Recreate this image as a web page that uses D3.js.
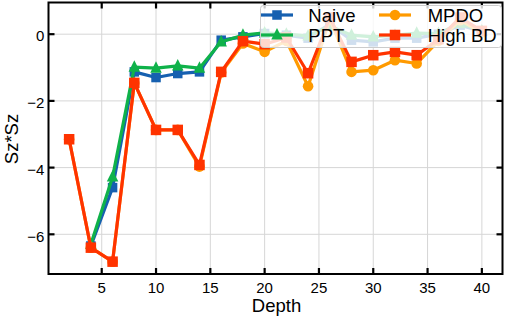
<!DOCTYPE html>
<html><head><meta charset="utf-8">
<script src="https://cdn.jsdelivr.net/npm/d3@7"></script>
<style>body{margin:0;background:#fff}svg{display:block;font-family:"Liberation Sans",Arial,sans-serif}</style>
</head><body><svg id="c" width="507" height="320"></svg>
<script>
const depth = [2,4,6,8,10,12,14,16,18,20,22,24,26,28,30,32,34,36,38,40];
const naive = [null,-6.35,-4.60,-1.13,-1.30,-1.18,-1.13,-0.18,-0.08,0.02,-0.03,-0.12,0.30,-0.18,-0.23,-0.12,-0.12,0.0,0.27,0.08];
const ppt   = [null,-6.30,-4.28,-0.99,-1.02,-0.95,-1.02,-0.23,-0.03,0.04,0.0,-0.05,0.25,-0.03,-0.08,-0.03,0.03,0.02,0.32,0.1];
const mpdo  = [-3.15,-6.40,-6.82,-1.46,-2.87,-2.87,-3.97,-1.15,-0.28,-0.53,-0.2,-1.56,0.45,-1.13,-1.08,-0.78,-0.88,-0.2,0.42,0.05];
const highBD= [-3.15,-6.40,-6.82,-1.46,-2.87,-2.87,-3.92,-1.13,-0.21,-0.3,-0.1,-1.17,0.5,-0.83,-0.63,-0.53,-0.63,-0.15,0.5,0.1];
const xTicks = [5,10,15,20,25,30,35,40];
const yTicks = [0,-2,-4,-6];
const seriesNames = ["Naive","PPT","MPDO","High BD"];
const colors = ["#1660b0","#0fb24a","#ff9a00","#ff3300"];
const markers = ["square","triangle","circle","square"];

const svg = d3.select("#c");
const L=48.5,R=502.5,T=2.5,B=274;
const x = d3.scaleLinear().domain([0.1,41.9]).range([L,R]);
const y = d3.scaleLinear().domain([-7.19,0.95]).range([B,T]);

// grid
svg.append("g").selectAll("line").data(xTicks).join("line")
  .attr("x1",d=>x(d)).attr("x2",d=>x(d)).attr("y1",T).attr("y2",B)
  .attr("stroke","#d6d6d6").attr("stroke-width",1);
svg.append("g").selectAll("line").data(yTicks).join("line")
  .attr("y1",d=>y(d)).attr("y2",d=>y(d)).attr("x1",L).attr("x2",R)
  .attr("stroke","#d6d6d6").attr("stroke-width",1);

function drawMarkers(g, pts, type, col, s){
  if(type==="square"){
    g.selectAll("rect.m").data(pts).join("rect").attr("class","m")
      .attr("x",p=>p[0]-s/2).attr("y",p=>p[1]-s/2).attr("width",s).attr("height",s).attr("fill",col);
  } else if(type==="circle"){
    g.selectAll("circle").data(pts).join("circle")
      .attr("cx",p=>p[0]).attr("cy",p=>p[1]).attr("r",5.3).attr("fill",col);
  } else {
    const h=11.5;
    g.selectAll("path.m").data(pts).join("path").attr("class","m")
      .attr("d",p=>`M${p[0]},${p[1]-h*0.6}L${p[0]+h/2},${p[1]+h*0.4}L${p[0]-h/2},${p[1]+h*0.4}Z`).attr("fill",col);
  }
}

// series
const all = [naive,ppt,mpdo,highBD];
all.forEach((vals,i)=>{
  const pts = depth.map((d,j)=>({d,v:vals[j]})).filter(p=>p.v!==null);
  const g = svg.append("g");
  g.append("path").datum(pts)
    .attr("d",d3.line().x(p=>x(p.d)).y(p=>y(p.v)))
    .attr("fill","none").attr("stroke",colors[i]).attr("stroke-width",3.2).attr("stroke-linejoin","round");
  drawMarkers(g, pts.map(p=>[x(p.d),y(p.v)]), markers[i], colors[i], i===3?10.5:9.5);
});

// frame
svg.append("rect").attr("x",L).attr("y",T).attr("width",R-L).attr("height",B-T)
  .attr("fill","none").attr("stroke","#000").attr("stroke-width",2);
// ticks inward
const tk=6;
xTicks.forEach(t=>{
  svg.append("line").attr("x1",x(t)).attr("x2",x(t)).attr("y1",B).attr("y2",B-tk).attr("stroke","#000").attr("stroke-width",2.2);
  svg.append("line").attr("x1",x(t)).attr("x2",x(t)).attr("y1",T).attr("y2",T+tk).attr("stroke","#000").attr("stroke-width",2.2);
  svg.append("text").attr("x",x(t)).attr("y",293).attr("text-anchor","middle").attr("font-size",15).text(t);
});
yTicks.forEach(t=>{
  svg.append("line").attr("y1",y(t)).attr("y2",y(t)).attr("x1",L).attr("x2",L+tk).attr("stroke","#000").attr("stroke-width",2.2);
  svg.append("line").attr("y1",y(t)).attr("y2",y(t)).attr("x1",R).attr("x2",R-tk).attr("stroke","#000").attr("stroke-width",2.2);
  svg.append("text").attr("x",44.3).attr("y",y(t)+7.3).attr("text-anchor","end").attr("font-size",15)
    .text(t<0?"\u2212"+Math.abs(t):t);
});
svg.append("text").attr("x",(L+R)/2+1).attr("y",311.5).attr("text-anchor","middle").attr("font-size",18.5).text("Depth");
svg.append("text").attr("transform","translate(18.3,139) rotate(-90)").attr("text-anchor","middle").attr("font-size",18.5).text("Sz*Sz");

// legend
const lg = svg.append("g");
lg.append("rect").attr("x",260.5).attr("y",5.5).attr("width",241).attr("height",42).attr("rx",3)
  .attr("fill","#fff").attr("fill-opacity",0.8).attr("stroke","#cccccc").attr("stroke-width",1);
const pos = [[261,15],[261,35],[379,15],[379,35]];
seriesNames.forEach((n,i)=>{
  const [lx,ly]=pos[i];
  lg.append("line").attr("x1",lx).attr("x2",lx+32).attr("y1",ly).attr("y2",ly).attr("stroke",colors[i]).attr("stroke-width",3.2);
  drawMarkers(lg.append("g"),[[lx+16,ly]],markers[i],colors[i],i===3?10.5:9.5);
  lg.append("text").attr("x",lx+(i<2?47.3:48.7)).attr("y",ly+6.7).attr("font-size",18.5).text(n);
});
</script></body></html>
